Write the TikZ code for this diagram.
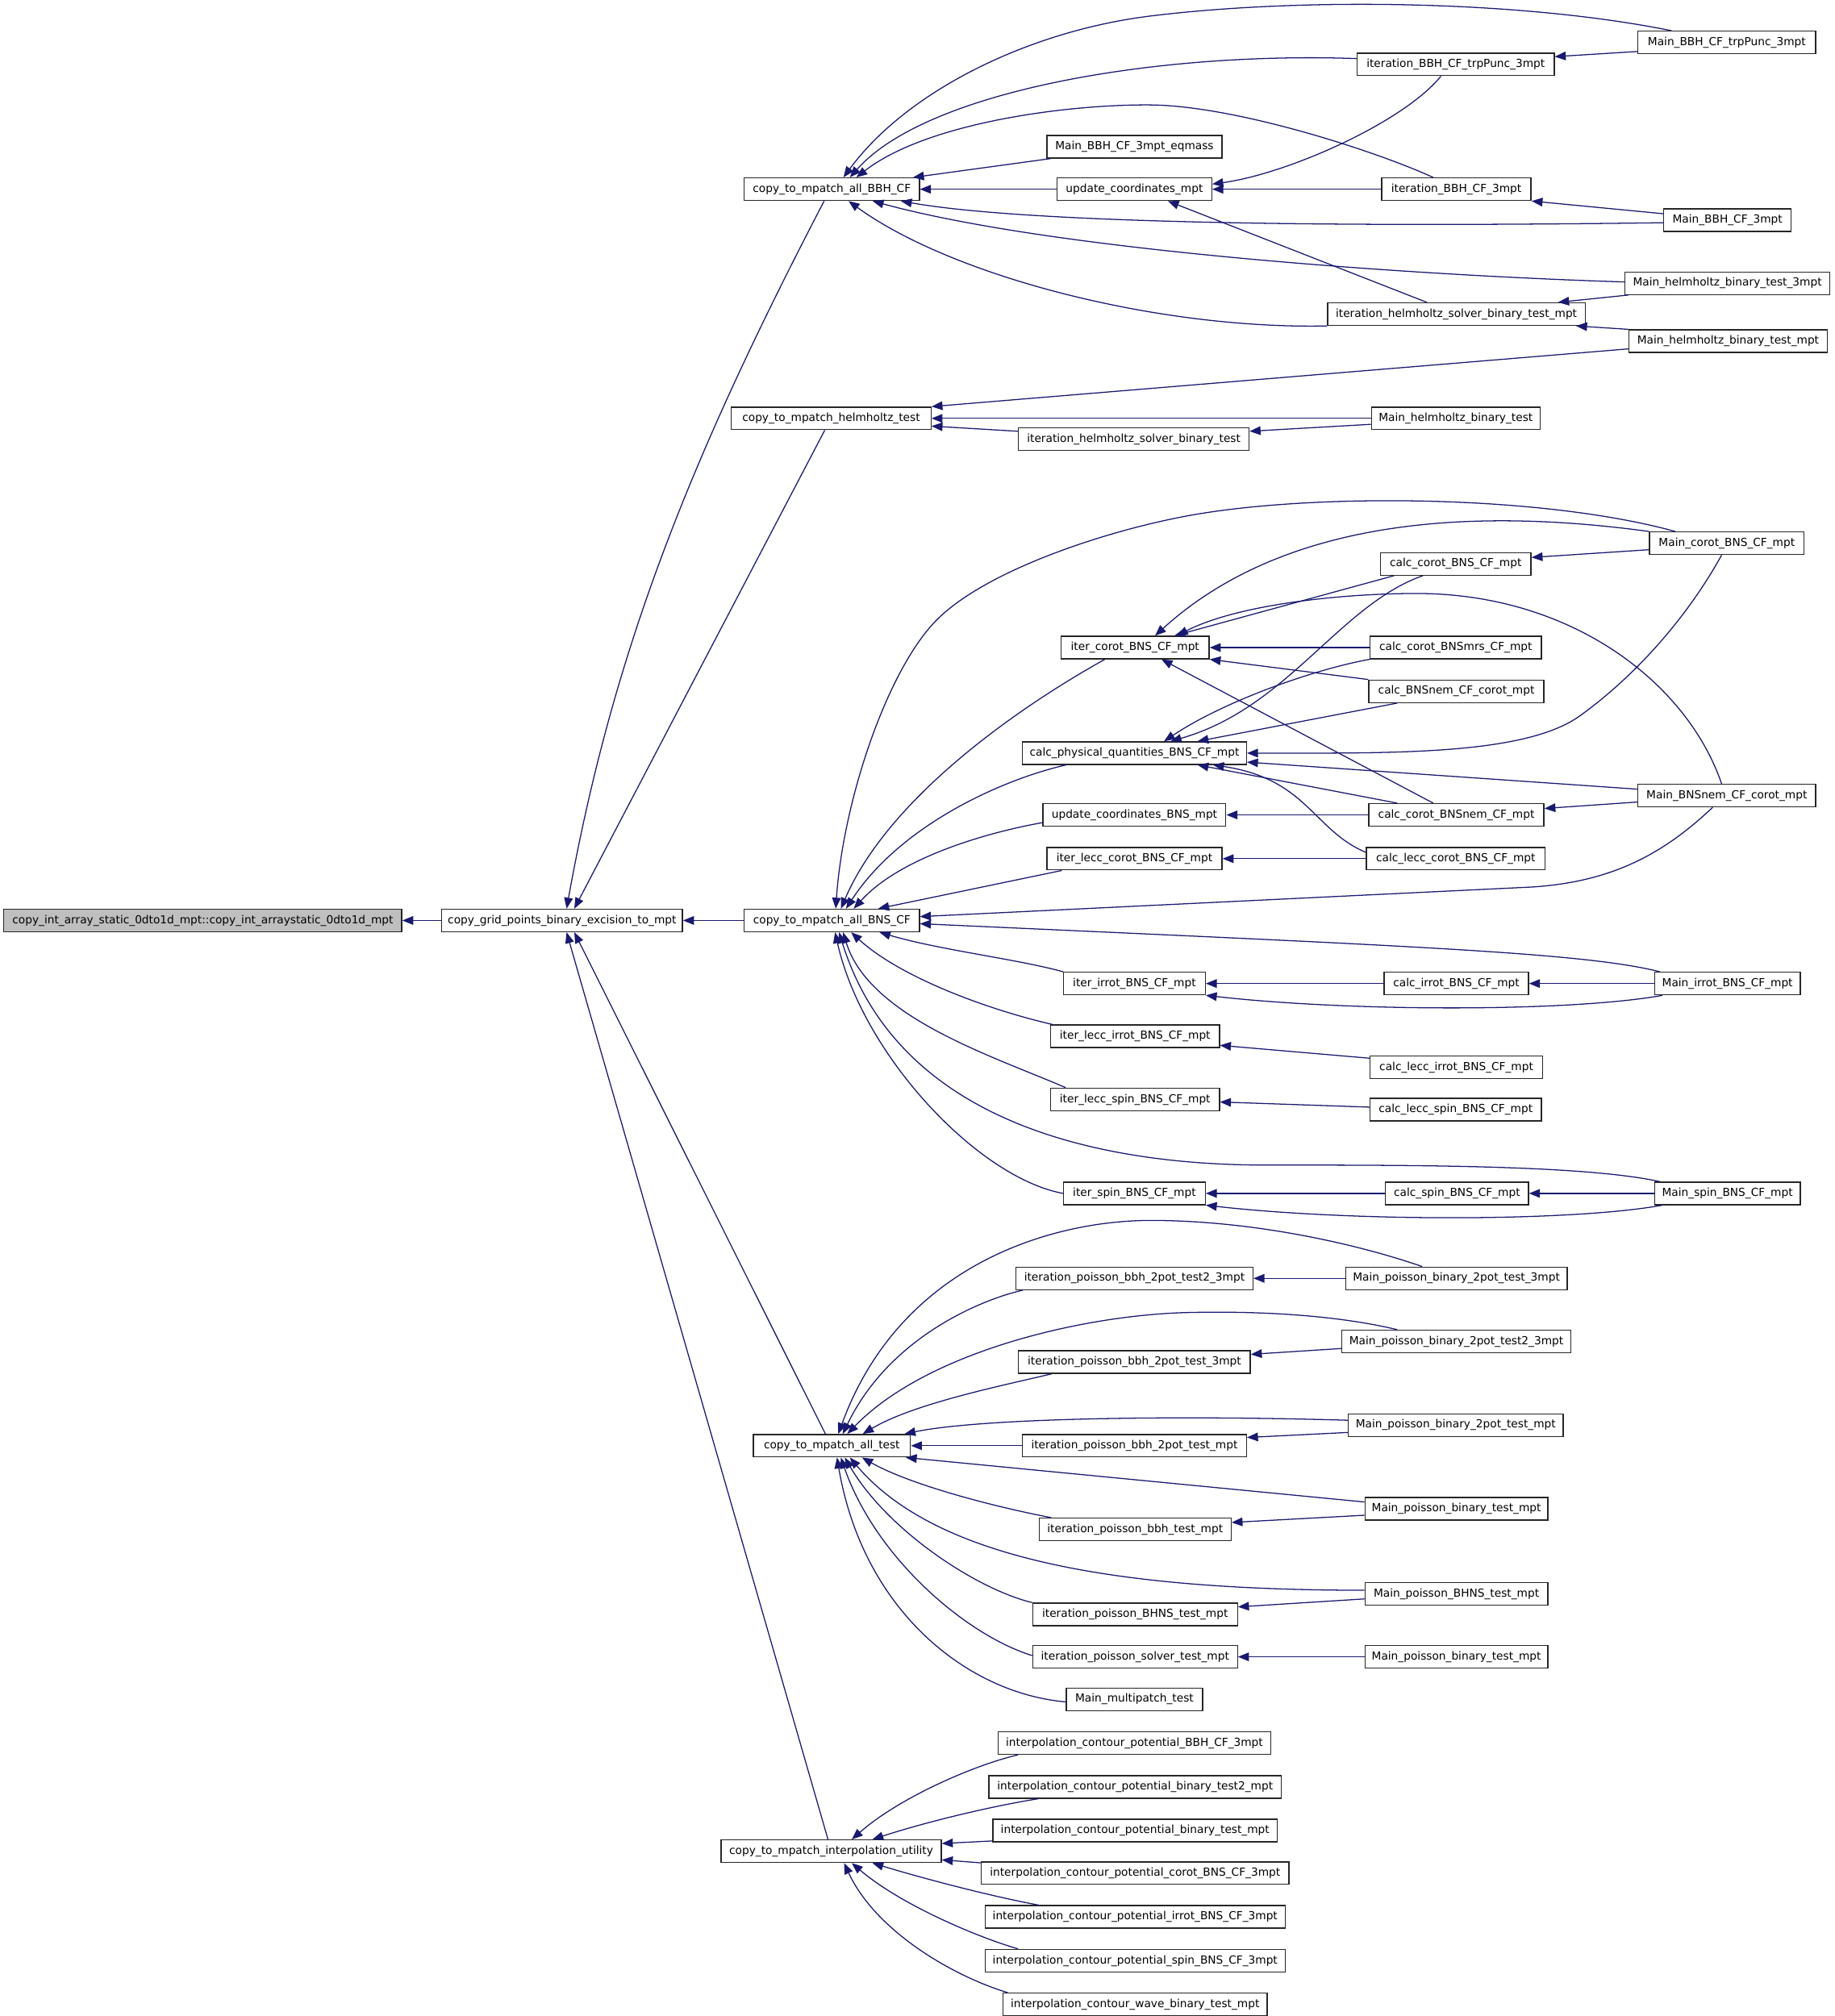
\documentclass[tikz,border=0pt]{standalone}
\usepackage{fontspec}
\setmainfont{DejaVu Sans}
\usetikzlibrary{arrows.meta}
\definecolor{edgeblue}{RGB}{25,25,112}
\definecolor{rootgray}{RGB}{191,191,191}
\newcommand\bx[5]{\node[box,minimum width=#4pt] (#1) at (#2,#3) {#5};}
\begin{document}
\begin{tikzpicture}[x=1pt,y=-1pt,
  box/.style={draw=black!85,line width=0.85pt,fill=white,inner sep=0pt,minimum height=17.5pt,
    text height=6.4pt,text depth=1.8pt,font=\fontsize{8.6}{10}\selectfont},
  rootbox/.style={fill=rootgray},
  e/.style={draw=edgeblue,line width=0.8pt,-{Triangle[length=8.5pt,width=6.7pt]}}]
\useasboundingbox (0,0) rectangle (1425,1566);
% ---- nodes ----
\node[box,rootbox,minimum width=309pt] (A) at (157.5,715) {copy\_int\_array\_static\_0dto1d\_mpt::copy\_int\_arraystatic\_0dto1d\_mpt};
\bx{B}{436.5}{715}{187}{copy\_grid\_points\_binary\_excision\_to\_mpt}
\bx{C1}{646}{147}{136}{copy\_to\_mpatch\_all\_BBH\_CF}
\bx{C2}{645.5}{325}{155}{copy\_to\_mpatch\_helmholtz\_test}
\bx{C3}{646}{715}{136}{copy\_to\_mpatch\_all\_BNS\_CF}
\bx{C4}{646}{1123}{122}{copy\_to\_mpatch\_all\_test}
\bx{C5}{645.5}{1438}{171}{copy\_to\_mpatch\_interpolation\_utility}
% BBH
\bx{eqmass}{881}{114}{136}{Main\_BBH\_CF\_3mpt\_eqmass}
\bx{updcoord}{881}{147}{120}{update\_coordinates\_mpt}
\bx{iterHelmBin}{880.5}{341}{179}{iteration\_helmholtz\_solver\_binary\_test}
\bx{iterTrp}{1130.5}{50}{153}{iteration\_BBH\_CF\_trpPunc\_3mpt}
\bx{iterBBH3}{1131}{147}{116}{iteration\_BBH\_CF\_3mpt}
\bx{iterHelmMpt}{1131}{244}{200}{iteration\_helmholtz\_solver\_binary\_test\_mpt}
\bx{MainHelmBin}{1130.5}{325}{131}{Main\_helmholtz\_binary\_test}
\bx{MainTrp}{1341}{33}{138}{Main\_BBH\_CF\_trpPunc\_3mpt}
\bx{MainBBH3}{1341.5}{171}{99}{Main\_BBH\_CF\_3mpt}
\bx{MainHelm3}{1341.5}{220}{159}{Main\_helmholtz\_binary\_test\_3mpt}
\bx{MainHelmMpt}{1342}{265}{154}{Main\_helmholtz\_binary\_test\_mpt}
% BNS
\bx{iterCorot}{881.5}{503}{115}{iter\_corot\_BNS\_CF\_mpt}
\bx{calcPhys}{881}{585}{174}{calc\_physical\_quantities\_BNS\_CF\_mpt}
\bx{updBNS}{881}{633}{142}{update\_coordinates\_BNS\_mpt}
\bx{iterLeccCorot}{881}{667}{136}{iter\_lecc\_corot\_BNS\_CF\_mpt}
\bx{iterIrrot}{881}{764}{110}{iter\_irrot\_BNS\_CF\_mpt}
\bx{iterLeccIrrot}{881.5}{805}{131}{iter\_lecc\_irrot\_BNS\_CF\_mpt}
\bx{iterLeccSpin}{881.5}{854}{131}{iter\_lecc\_spin\_BNS\_CF\_mpt}
\bx{iterSpin}{881}{927}{110}{iter\_spin\_BNS\_CF\_mpt}
\bx{calcCorot}{1130.5}{438}{117}{calc\_corot\_BNS\_CF\_mpt}
\bx{calcMrs}{1130.5}{503}{133}{calc\_corot\_BNSmrs\_CF\_mpt}
\bx{calcNemCorot}{1131}{537}{136}{calc\_BNSnem\_CF\_corot\_mpt}
\bx{calcCorotNem}{1131}{633}{136}{calc\_corot\_BNSnem\_CF\_mpt}
\bx{calcLeccCorot}{1130.5}{667}{139}{calc\_lecc\_corot\_BNS\_CF\_mpt}
\bx{calcIrrot}{1131}{764}{112}{calc\_irrot\_BNS\_CF\_mpt}
\bx{calcLeccIrrot}{1131}{829}{134}{calc\_lecc\_irrot\_BNS\_CF\_mpt}
\bx{calcLeccSpin}{1130.5}{862}{133}{calc\_lecc\_spin\_BNS\_CF\_mpt}
\bx{calcSpin}{1131.5}{927}{111}{calc\_spin\_BNS\_CF\_mpt}
\bx{MainCorot}{1341}{422}{120}{Main\_corot\_BNS\_CF\_mpt}
\bx{MainNem}{1341}{618}{138}{Main\_BNSnem\_CF\_corot\_mpt}
\bx{MainIrrot}{1341.5}{764}{113}{Main\_irrot\_BNS\_CF\_mpt}
\bx{MainSpin}{1341.5}{927}{113}{Main\_spin\_BNS\_CF\_mpt}
% test
\bx{ip2t23}{881}{993}{184}{iteration\_poisson\_bbh\_2pot\_test2\_3mpt}
\bx{ip2t3}{881}{1058}{180}{iteration\_poisson\_bbh\_2pot\_test\_3mpt}
\bx{ip2tm}{881}{1123}{174}{iteration\_poisson\_bbh\_2pot\_test\_mpt}
\bx{ipbt}{881.5}{1188}{149}{iteration\_poisson\_bbh\_test\_mpt}
\bx{ipBHNS}{881.5}{1254}{159}{iteration\_poisson\_BHNS\_test\_mpt}
\bx{ipsolver}{881.5}{1287}{159}{iteration\_poisson\_solver\_test\_mpt}
\bx{Mmulti}{881}{1320}{106}{Main\_multipatch\_test}
\bx{Mp2t3}{1131}{993}{172}{Main\_poisson\_binary\_2pot\_test\_3mpt}
\bx{Mp2t23}{1131}{1042}{178}{Main\_poisson\_binary\_2pot\_test2\_3mpt}
\bx{Mp2tm}{1130.5}{1107}{167}{Main\_poisson\_binary\_2pot\_test\_mpt}
\bx{Mpbt}{1131}{1172}{142}{Main\_poisson\_binary\_test\_mpt}
\bx{MpBHNS}{1131}{1238}{142}{Main\_poisson\_BHNS\_test\_mpt}
\bx{Mpbt2}{1131}{1287}{142}{Main\_poisson\_binary\_test\_mpt}
% interpolation
\bx{iBBH}{881}{1354}{212}{interpolation\_contour\_potential\_BBH\_CF\_3mpt}
\bx{iT2}{881.5}{1388}{227}{interpolation\_contour\_potential\_binary\_test2\_mpt}
\bx{iT}{881.5}{1422}{221}{interpolation\_contour\_potential\_binary\_test\_mpt}
\bx{iCorot}{881.5}{1455}{239}{interpolation\_contour\_potential\_corot\_BNS\_CF\_3mpt}
\bx{iIrrot}{881.5}{1489}{233}{interpolation\_contour\_potential\_irrot\_BNS\_CF\_3mpt}
\bx{iSpin}{881.5}{1523}{233}{interpolation\_contour\_potential\_spin\_BNS\_CF\_3mpt}
\bx{iWave}{881.5}{1557}{205}{interpolation\_contour\_wave\_binary\_test\_mpt}
% ---- edges: top level ----
\draw[e] (B.west) -- (A.east);
\draw[e] ([xshift=-6pt]C1.south) .. controls (536,356) and (476,506) .. ([xshift=3.5pt]B.north);
\draw[e] ([xshift=-5pt]C2.south) -- ([xshift=9.5pt]B.north);
\draw[e] (C3.west) -- (B.east);
\draw[e] ([xshift=-5pt]C4.north) -- ([xshift=9.5pt]B.south);
\draw[e] ([xshift=-2.5pt]C5.north) -- ([xshift=3.5pt]B.south);
% ---- BBH ----
\draw[e] ([xshift=-43pt]MainTrp.north) .. controls (1180,0) and (1010,-2) .. (893,12.5) .. controls (800,24) and (705,70) .. ([xshift=9pt]C1.north);
\draw[e] ([yshift=4.5pt]iterTrp.west) .. controls (900,40) and (720,70) .. ([xshift=14pt]C1.north);
\draw[e] ([xshift=-18pt]iterBBH3.north) .. controls (1070,118) and (960,82) .. (893,81.5) .. controls (830,81) and (720,95) .. ([xshift=19pt]C1.north);
\draw[e] ([xshift=-65pt]eqmass.south) -- ([xshift=63pt]C1.north);
\draw[e] (updcoord.west) -- (C1.east);
\draw[e] ([yshift=-2pt]MainBBH3.west) .. controls (1000,177) and (790,172) .. ([xshift=53.6pt]C1.south);
\draw[e] ([yshift=1pt]MainHelm3.west) .. controls (1100,214) and (820,195) .. ([xshift=31.7pt]C1.south);
\draw[e] (iterHelmMpt.south west) .. controls (900,256) and (740,215) .. ([xshift=13pt]C1.south);
\draw[e] ([xshift=-11.5pt]iterTrp.south) .. controls (1090,95) and (1000,135) .. ([yshift=4pt]updcoord.east);
\draw[e] (iterBBH3.west) -- (updcoord.east);
\draw[e] ([xshift=-23pt]iterHelmMpt.north) -- ([xshift=26pt]updcoord.south);
\draw[e] ([yshift=-7pt]MainTrp.west) -- ([yshift=6pt]iterTrp.east);
\draw[e] ([yshift=5pt]MainBBH3.west) -- (iterBBH3.south east);
\draw[e] ([xshift=3pt]MainHelm3.south west) -- ([xshift=79pt]iterHelmMpt.north);
\draw[e] (MainHelmMpt.north west) -- ([xshift=93pt]iterHelmMpt.south);
% ---- helmholtz ----
\draw[e] ([yshift=-6pt]MainHelmMpt.west) -- (C2.north east);
\draw[e] (MainHelmBin.west) -- (C2.east);
\draw[e] ([yshift=6pt]iterHelmBin.west) -- ([yshift=-6pt]C2.east);
\draw[e] ([yshift=-4.6pt]MainHelmBin.west) -- ([yshift=6pt]iterHelmBin.east);
% ---- BNS into C3 ----
\draw[e] ([xshift=-40pt]MainCorot.north) .. controls (1200,385) and (1030,383) .. (932,399) .. controls (870,409) and (770,440) .. (728.5,480.5) .. controls (690,518) and (655,620) .. ([xshift=3pt]C3.north);
\draw[e] ([xshift=-23.5pt]iterCorot.south) .. controls (790,550) and (690,620) .. ([xshift=7pt]C3.north);
\draw[e] ([xshift=-53pt]calcPhys.south) .. controls (780,605) and (700,640) .. ([xshift=11pt]C3.north);
\draw[e] ([yshift=-6pt]updBNS.west) .. controls (770,646) and (700,665) .. ([xshift=17pt]C3.north);
\draw[e] ([xshift=12pt]iterLeccCorot.south west) -- ([xshift=36pt]C3.north);
\draw[e] ([xshift=-11pt]MainNem.south) .. controls (1290,665) and (1250,685) .. (1190,689) -- ([yshift=3pt]C3.east);
\draw[e] ([xshift=-52.5pt]MainIrrot.north) .. controls (1230,740) and (1100,735) .. ([yshift=-2.5pt]C3.east);
\draw[e] (iterIrrot.north west) .. controls (790,745) and (730,738) .. ([xshift=37pt]C3.south);
\draw[e] ([xshift=2pt]iterLeccIrrot.north west) .. controls (770,785) and (700,760) .. ([xshift=15pt]C3.south);
\draw[e] ([xshift=12pt]iterLeccSpin.north west) .. controls (770,820) and (675,790) .. ([xshift=8.7pt]C3.south);
\draw[e] ([xshift=-52.5pt]MainSpin.north) .. controls (1230,905) and (1100,905) .. (983,905) .. controls (870,905) and (700,880) .. ([xshift=5.6pt]C3.south);
\draw[e] (iterSpin.west) .. controls (760,915) and (670,820) .. ([xshift=2.5pt]C3.south);
% ---- into iterCorot ----
\draw[e] (MainCorot.north west) .. controls (1150,395) and (1000,400) .. ([xshift=15.5pt]iterCorot.north);
\draw[e] ([xshift=11pt]calcCorot.south west) -- ([xshift=30.5pt]iterCorot.north);
\draw[e] ([xshift=-4pt]MainNem.north) .. controls (1310,530) and (1220,461) .. (1100,461) .. controls (1040,461) and (960,470) .. ([xshift=32.5pt]iterCorot.north);
\draw[e] (calcMrs.west) -- (iterCorot.east);
\draw[e] (calcNemCorot.north west) -- (iterCorot.south east);
\draw[e] ([xshift=-18pt]calcCorotNem.north) -- ([xshift=20.5pt]iterCorot.south);
% ---- into calcPhys ----
\draw[e] ([xshift=-25.5pt]calcCorot.south) .. controls (1040,470) and (1000,550) .. ([xshift=28pt]calcPhys.north);
\draw[e] (calcMrs.south west) .. controls (1020,520) and (950,545) .. ([xshift=23pt]calcPhys.north);
\draw[e] ([xshift=-46pt]calcNemCorot.south) -- ([xshift=49pt]calcPhys.north);
\draw[e] ([xshift=-4pt]MainCorot.south) .. controls (1310,480) and (1270,525) .. (1227,556) .. controls (1184,587) and (1080,585) .. (calcPhys.east);
\draw[e] ([yshift=5pt]MainNem.west) -- ([yshift=-7pt]calcPhys.east);
\draw[e] ([xshift=-46pt]calcCorotNem.north) -- ([xshift=49pt]calcPhys.south);
\draw[e] ([yshift=5pt]calcLeccCorot.west) .. controls (1020,645) and (1015,605) .. ([xshift=61pt]calcPhys.south);
\draw[e] (calcCorotNem.west) -- (updBNS.east);
\draw[e] (calcLeccCorot.west) -- (iterLeccCorot.east);
\draw[e] ([yshift=-5pt]MainCorot.west) -- ([yshift=5pt]calcCorot.east);
\draw[e] ([yshift=-5pt]MainNem.west) -- ([yshift=5pt]calcCorotNem.east);
% ---- irrot / lecc / spin ----
\draw[e] (calcIrrot.west) -- (iterIrrot.east);
\draw[e] (MainIrrot.west) -- (calcIrrot.east);
\draw[e] ([xshift=-50.5pt]MainIrrot.south) .. controls (1220,786) and (1050,786) .. (iterIrrot.south east);
\draw[e] ([yshift=7pt]calcLeccIrrot.west) -- ([yshift=-7pt]iterLeccIrrot.east);
\draw[e] ([yshift=2pt]calcLeccSpin.west) -- ([yshift=-2pt]iterLeccSpin.east);
\draw[e] (calcSpin.west) -- (iterSpin.east);
\draw[e] (MainSpin.west) -- (calcSpin.east);
\draw[e] ([xshift=-50.5pt]MainSpin.south) .. controls (1220,949) and (1050,949) .. (iterSpin.south east);
% ---- test ----
\draw[e] ([xshift=-26.5pt]Mp2t3.north) .. controls (1050,965) and (970,948) .. (893.6,948) .. controls (820,948) and (700,980) .. ([xshift=5pt]C4.north);
\draw[e] ([xshift=5.7pt]ip2t23.south west) .. controls (760,1010) and (690,1040) .. ([xshift=8.5pt]C4.north);
\draw[e] ([xshift=-46pt]Mp2t23.north) .. controls (1040,1022) and (980,1018) .. (920,1019.6) .. controls (840,1022) and (720,1050) .. ([xshift=12pt]C4.north);
\draw[e] ([xshift=-64.3pt]ip2t3.south) .. controls (780,1076) and (710,1090) .. ([xshift=24pt]C4.north);
\draw[e] ([yshift=3.8pt]Mp2tm.west) .. controls (900,1099) and (760,1102) .. ([xshift=-5pt]C4.north east);
\draw[e] (ip2tm.west) -- (C4.east);
\draw[e] ([yshift=-5.7pt]Mp2tm.west) -- ([yshift=6.4pt]ip2tm.east);
\draw[e] ([yshift=-5.5pt]Mp2t23.west) -- ([yshift=6pt]ip2t3.east);
\draw[e] (Mp2t3.west) -- (ip2t23.east);
\draw[e] ([yshift=5.3pt]Mpbt.west) -- ([xshift=-4pt]C4.south east);
\draw[e] ([xshift=9.7pt]ipbt.north west) .. controls (780,1172) and (710,1155) .. ([xshift=23.4pt]C4.south);
\draw[e] ([yshift=-5pt]Mpbt.west) -- ([yshift=5.4pt]ipbt.east);
\draw[e] ([yshift=2.7pt]MpBHNS.west) .. controls (880,1235) and (730,1215) .. ([xshift=14pt]C4.south);
\draw[e] (ipBHNS.north west) .. controls (760,1235) and (690,1190) .. ([xshift=10pt]C4.south);
\draw[e] ([yshift=1pt]ipsolver.west) .. controls (750,1270) and (680,1210) .. ([xshift=7pt]C4.south);
\draw[e] (Mpbt2.west) -- (ipsolver.east);
\draw[e] ([yshift=-2pt]Mmulti.west) .. controls (750,1315) and (670,1250) .. ([xshift=4pt]C4.south);
\draw[e] ([yshift=-4pt]MpBHNS.west) -- ([yshift=5.8pt]ipBHNS.east);
% ---- interpolation ----
\draw[e] ([xshift=16pt]iBBH.south west) .. controls (760,1370) and (700,1395) .. ([xshift=16pt]C5.north);
\draw[e] ([xshift=39pt]iT2.south west) .. controls (770,1403) and (720,1415) .. ([xshift=32pt]C5.north);
\draw[e] ([yshift=-8pt]iT.west) -- ([yshift=6pt]C5.east);
\draw[e] ([yshift=8pt]iCorot.west) -- ([yshift=-6.7pt]C5.east);
\draw[e] ([xshift=42pt]iIrrot.north west) .. controls (770,1473) and (720,1460) .. ([xshift=32pt]C5.south);
\draw[e] ([xshift=26pt]iSpin.north west) .. controls (760,1505) and (700,1480) .. ([xshift=16pt]C5.south);
\draw[e] ([xshift=4pt]iWave.north west) .. controls (740,1535) and (680,1500) .. ([xshift=10pt]C5.south);
\end{tikzpicture}
\end{document}
